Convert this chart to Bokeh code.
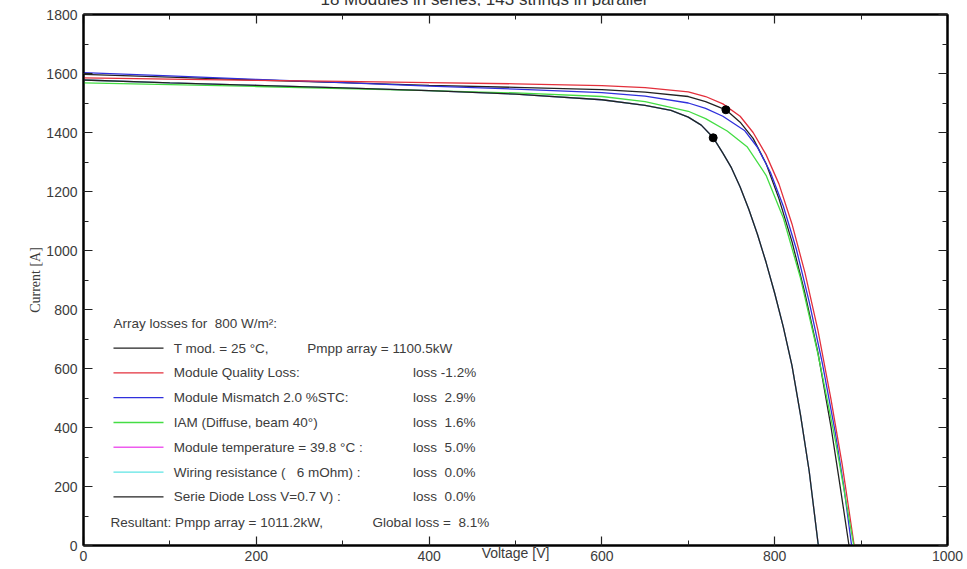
from bokeh.plotting import figure
from bokeh.layouts import column
from bokeh.models import Range1d, LinearAxis, Label, FixedTicker, Title, Div
from bokeh.embed import file_html
from bokeh.resources import INLINE

# ---------------- data ----------------
chart_title = "18 Modules in series, 143 strings in parallel"
# Reference array, T mod = 25 C
v_ref = [0, 100, 200, 300, 400, 500, 600, 650, 700, 720, 743.5, 760, 775, 790, 805, 820, 835, 850, 865, 875, 886]
i_ref = [1597, 1588, 1578, 1569, 1560, 1553, 1545, 1537, 1522, 1505, 1477, 1435, 1380, 1295, 1175, 1030, 855, 655, 405, 215, 0]
# Module quality loss
v_qual = [0, 100, 200, 300, 400, 500, 600, 650, 700, 720, 740, 760, 775, 790, 805, 820, 835, 850, 865, 878, 892]
i_qual = [1585, 1581, 1577, 1573, 1569, 1565, 1559, 1552, 1538, 1522, 1497, 1455, 1400, 1325, 1225, 1090, 925, 730, 498, 277, 0]
# Module mismatch
v_mism = [0, 100, 200, 300, 400, 500, 600, 650, 700, 720, 740, 765, 780, 795, 810, 825, 840, 855, 870, 880, 889]
i_mism = [1603, 1592, 1580, 1569, 1557, 1547, 1535, 1523, 1500, 1482, 1455, 1407, 1350, 1265, 1150, 1005, 825, 620, 385, 200, 0]
# IAM
v_iam = [0, 100, 200, 300, 400, 500, 600, 650, 700, 720, 745, 768, 790, 810, 830, 850, 870, 891.5]
i_iam = [1568, 1562, 1556, 1549, 1542, 1534, 1522, 1505, 1472, 1447, 1405, 1352, 1255, 1110, 905, 650, 360, 0]
# Module temperature / wiring / serie diode (resultant)
v_res = [0, 100, 200, 300, 400, 500, 600, 650, 680, 700, 715, 729, 740, 750, 760, 770, 780, 790, 800, 810, 820, 830, 840, 850.5]
i_res = [1578, 1568, 1560, 1551, 1542, 1530, 1511, 1492, 1475, 1452, 1425, 1382, 1330, 1280, 1215, 1140, 1055, 960, 855, 740, 610, 440, 250, 0]
v_temp, i_temp = v_res, i_res      # loss 5.0 %
v_wire, i_wire = v_res, i_res      # loss 0.0 %

# maximum power points
mpp_v = [743.5, 728.8]
mpp_i = [1477, 1382]

x_ticks = [0, 200, 400, 600, 800, 1000]
y_ticks = [0, 200, 400, 600, 800, 1000, 1200, 1400, 1600, 1800]

legend_header = "Array losses for \u00a0800 W/m²:"
legend_names = ["T mod. = 25 °C,", "Module Quality Loss:", "Module Mismatch 2.0 %STC:",
                "IAM (Diffuse, beam 40°)", "Module temperature = 39.8 °C :",
                "Wiring resistance ( \u00a0 6 mOhm) :", "Serie Diode Loss V=0.7 V) :"]
legend_values = ["Pmpp array = 1100.5kW", "loss -1.2%", "loss \u00a02.9%", "loss \u00a01.6%",
                 "loss \u00a05.0%", "loss \u00a00.0%", "loss \u00a00.0%"]
legend_colors = ["#222222", "#e3303c", "#3030dc", "#44dd44", "#ee5cee", "#5ee4e4", "#222222"]
resultant_a = "Resultant: Pmpp array = 1011.2kW,"
resultant_b = "Global loss = \u00a08.1%"

# ---------------- figure ----------------
TOP_STRIP = 6
W, H = 967, 569 - TOP_STRIP
p = figure(width=W, height=H, output_backend="svg", toolbar_location=None,
           x_range=Range1d(0, 1000), y_range=Range1d(0, 1800),
           x_axis_location=None, y_axis_location=None,
           min_border_left=83, min_border_right=20, min_border_top=14 - TOP_STRIP,
           min_border_bottom=24)
p.background_fill_color = "white"
p.border_fill_color = "white"
p.outline_line_color = "black"
p.outline_line_width = 2
p.xgrid.visible = False
p.ygrid.visible = False

FONT = "Liberation Sans"
txt_col = "#3c3c3c"
TICK_FS = "14px"
LEG_FS = "13.5px"


def style_axis(ax, labels=True):
    ax.axis_line_color = "black"
    ax.axis_line_width = 2
    ax.major_tick_in = 9
    ax.major_tick_out = 0
    ax.minor_tick_in = 5
    ax.minor_tick_out = 0
    ax.major_tick_line_color = "#222222"
    ax.minor_tick_line_color = "#222222"
    ax.major_tick_line_width = 1.2
    ax.minor_tick_line_width = 1
    ax.major_label_text_font = FONT
    if labels:
        ax.major_label_text_font_size = TICK_FS
        ax.major_label_text_color = txt_col
    else:
        ax.major_label_text_font_size = "0px"
        ax.major_label_text_color = None
        ax.major_label_standoff = 0


xb = LinearAxis(ticker=FixedTicker(ticks=x_ticks, minor_ticks=list(range(0, 1001, 100))))
style_axis(xb)
xb.major_label_standoff = 5
xb.axis_label = "Voltage [V]"
xb.axis_label_text_font = FONT
xb.axis_label_text_font_style = "normal"
xb.axis_label_text_font_size = TICK_FS
xb.axis_label_text_color = txt_col
xb.axis_label_standoff = -19
p.add_layout(xb, "below")

xt = LinearAxis(ticker=FixedTicker(ticks=x_ticks, minor_ticks=list(range(0, 1001, 100))))
style_axis(xt, labels=False)
p.add_layout(xt, "above")

yl = LinearAxis(ticker=FixedTicker(ticks=y_ticks, minor_ticks=list(range(0, 1801, 100))))
style_axis(yl)
yl.major_label_standoff = 6
p.add_layout(yl, "left")

yr = LinearAxis(ticker=FixedTicker(ticks=y_ticks, minor_ticks=list(range(0, 1801, 100))))
style_axis(yr, labels=False)
p.add_layout(yr, "right")

# y axis title (serif)
p.add_layout(Title(text="Current [A]", align="center", standoff=2,
                   text_font="Liberation Serif", text_font_style="normal",
                   text_font_size="14px", text_color=txt_col), "left")

# curves (the final black curve on top)
lw = 1.3
p.line(v_temp, i_temp, line_color=legend_colors[4], line_width=lw)
p.line(v_wire, i_wire, line_color=legend_colors[5], line_width=lw)
p.line(v_ref, i_ref, line_color=legend_colors[0], line_width=lw)
p.line(v_mism, i_mism, line_color=legend_colors[2], line_width=lw)
p.line(v_qual, i_qual, line_color=legend_colors[1], line_width=lw)
p.line(v_iam, i_iam, line_color=legend_colors[3], line_width=lw)
p.line(v_res, i_res, line_color=legend_colors[6], line_width=lw)
p.scatter(mpp_v, mpp_i, size=8, fill_color="black", line_color="black")

# legend drawn inside the plot
row_y = [669, 585, 501, 417, 333, 249, 165]
header_y, result_y = 753, 78
x_line0, x_line1, x_name, x_pmpp, x_loss = 34.7, 92.6, 104.5, 259, 381.5
x_res_a, x_res_b = 31.3, 334.5


def leg_text(x, y, t):
    p.add_layout(Label(x=x, y=y, text=t, text_baseline="middle", text_font=FONT,
                       text_font_size=LEG_FS, text_color=txt_col))


leg_text(x_line0, header_y, legend_header)
p.segment(x0=[x_line0] * 7, y0=row_y, x1=[x_line1] * 7, y1=row_y,
          line_color=legend_colors, line_width=1.3)
for k in range(7):
    leg_text(x_name, row_y[k], legend_names[k])
    leg_text(x_pmpp if k == 0 else x_loss, row_y[k], legend_values[k])
leg_text(x_res_a, result_y, resultant_a)
leg_text(x_res_b, result_y, resultant_b)

# chart title: only its lower part shows above the frame, as in the reference
title_div = Div(
    text=('<div style="position:relative; top:-9px; width:967px; text-align:center; '
          'font-family:\'Liberation Sans\'; font-size:17px; line-height:17px; '
          'color:#333; white-space:nowrap;">' + chart_title + '</div>'),
    width=W, height=TOP_STRIP, styles={"overflow": "hidden", "margin": "0", "padding": "0"})

layout = column(title_div, p, spacing=0)
open("out.html", "w").write(file_html(layout, INLINE))
